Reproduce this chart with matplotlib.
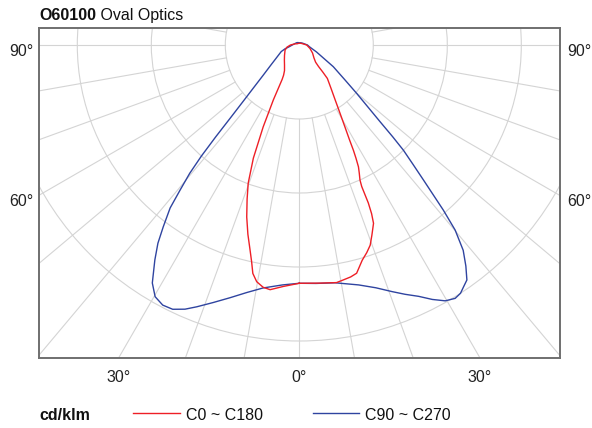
import numpy as np
import matplotlib
matplotlib.use("Agg")
import matplotlib.pyplot as plt
from matplotlib.lines import Line2D
from matplotlib.patches import Circle

plt.rcParams['font.family'] = ['Liberation Sans', 'DejaVu Sans']

# ---------------- data (cd/klm, gamma in degrees from nadir) ----------------
title_bold = "O60100"
title_rest = " Oval Optics"
unit_label = "cd/klm"
series_names = ["C0 ~ C180", "C90 ~ C270"]
series_colors = ["#ee1f26", "#2f44a0"]

# C0 (right half of red curve)
g_c0 = [0, 5, 8.9, 10.6, 12.5, 14.1, 16.3, 18, 19.5, 20.9, 22.6, 23.2, 23.6, 23.8,
        24.2, 25.1, 25.9, 26.6, 27.2, 27.9, 28.8, 29.9, 31.3, 33.1, 36.1, 40.0,
        41.0, 41.8, 43.5, 48.5, 58.8, 71.9, 90, 120, 150, 180]
i_c0 = [322, 323, 325, 323, 321, 318, 303, 295, 287, 275, 261, 248, 233, 209,
        200, 191, 183, 171, 160, 145, 131, 117, 103, 89, 73, 59,
        48, 39, 32, 26.5, 20.9, 15.2, 10, 4, 2.8, 2.3]
# C180 (left half of red curve)
g_c180 = [0, 3.8, 6.8, 8.5, 10.2, 11.5, 12.4, 13.5, 15.2, 17.0, 18.7, 20.3, 22.1,
          23.8, 25.3, 26.5, 27.5, 30, 36, 45, 55, 70, 80, 90, 105, 120, 150, 180]
i_c180 = [322, 327, 333, 331, 325, 315, 300, 285, 265, 243, 220, 199, 165,
          121, 82, 52, 46, 40, 34, 28.5, 24.4, 20.5, 17, 12, 6, 3.3, 2.5, 2.3]
# C90 (right half of blue curve)
g_c90 = [0, 4, 8.6, 13.9, 17.5, 20.6, 23, 25.4, 27.6, 29.7, 31.6, 33, 34.2, 35.5,
         37, 38.6, 40.1, 41.1, 42.6, 43.6, 44.7, 45.5, 46.5, 49.9, 52.55, 57.45,
         68, 75, 80, 90, 120, 150, 180]
i_c90 = [322, 323, 325, 334, 344, 356, 366, 376, 388, 398, 402, 400, 395, 390,
         374, 355, 327, 296, 248, 223, 200, 177, 150, 101, 78, 54.5,
         25, 17, 14, 11, 5, 3.5, 3]
# C270 (left half of blue curve)
g_c270 = [0, 4, 8.5, 12, 15.3, 18.5, 21.4, 23.4, 25.6, 27.7, 29.8, 31.7, 33.9,
          35.5, 36.8, 38.4, 39.4, 40.5, 41.4, 42.3, 43.4, 45, 47, 50, 55, 60,
          70, 75, 80, 90, 110, 131, 150, 180]
i_c270 = [322, 325, 332, 342, 354, 367, 380, 389, 396, 397, 392, 378, 350,
          329, 307, 281, 254, 228, 200, 168, 135, 106, 84, 64, 46.5, 36.5,
          26, 20, 14, 9.5, 6, 4.7, 3.8, 3]

ring_step = 100          # cd/klm per ring
n_rings = 4
spoke_step = 10          # degrees
angle_labels = [90, 60, 30, 0]

# ---------------- layout ----------------
W, H, DPI = 592, 428, 100
CX, CY = 299.3, 45.0      # pole position (px)
PX_PER_RING = 74.0
BOX = (39.0, 27.7, 560.0, 357.7)  # left, top, right, bottom (px)

fig = plt.figure(figsize=(W / DPI, H / DPI), dpi=DPI)
l, t, r, b = BOX
ax = fig.add_axes([l / W, 1 - b / H, (r - l) / W, (b - t) / H])
ax.set_xlim((l - CX) / PX_PER_RING, (r - CX) / PX_PER_RING)
ax.set_ylim(-(b - CY) / PX_PER_RING, (CY - t) / PX_PER_RING)
ax.set_xticks([]); ax.set_yticks([])
for s in ax.spines.values():
    s.set_color("#6f6f6f")
    s.set_linewidth(1.4)
    s.set_zorder(10)

grid_color = "#d4d4d4"
for k in range(1, n_rings + 1):
    ax.add_patch(Circle((0, 0), k, fill=False, ec=grid_color, lw=0.8, zorder=1))
for a in range(0, 360, spoke_step):
    ar = np.deg2rad(a)
    rr = np.array([1.0, 10.0])
    ax.plot(rr * np.sin(ar), -rr * np.cos(ar), color=grid_color, lw=0.8, zorder=1)


def closed(g_right, i_right, g_left, i_left):
    gr = np.deg2rad(np.asarray(g_right, float))
    ir = np.asarray(i_right, float) / ring_step
    gl = np.deg2rad(np.asarray(g_left, float))
    il = np.asarray(i_left, float) / ring_step
    xr, yr = ir * np.sin(gr), -ir * np.cos(gr)
    xl, yl = -il * np.sin(gl), -il * np.cos(gl)
    x = np.concatenate([xr, xl[::-1]])
    y = np.concatenate([yr, yl[::-1]])
    return x, y


xb, yb = closed(g_c90, i_c90, g_c270, i_c270)
ax.plot(xb, yb, color=series_colors[1], lw=1.0, zorder=3, solid_joinstyle='round')
xr_, yr_ = closed(g_c0, i_c0, g_c180, i_c180)
ax.plot(xr_, yr_, color=series_colors[0], lw=1.0, zorder=4, solid_joinstyle='round')

# ---------------- angle labels ----------------
fs = 11.5
tick_color = "#222222"
xmin, xmax = ax.get_xlim()
ymin, ymax = ax.get_ylim()
for a in angle_labels:
    ar = np.deg2rad(a)
    if a >= 50:
        y = -(xmax) / np.tan(ar) if a != 90 else 0.0
        ypx = CY - y * PX_PER_RING + 6
        fig.text((l - 6) / W, 1 - ypx / H, f"{a}°", ha="right", va="center",
                 fontsize=fs, color=tick_color)
        fig.text((r + 7) / W, 1 - ypx / H, f"{a}°", ha="left", va="center",
                 fontsize=fs, color=tick_color)
    else:
        xd = -ymin * np.tan(ar)
        for sgn in ([1] if a == 0 else [-1, 1]):
            xpx = CX + sgn * xd * PX_PER_RING
            fig.text(xpx / W, 1 - 382 / H, f"{a}°", ha="center", va="baseline",
                     fontsize=fs, color=tick_color)

# ---------------- title ----------------
t1 = fig.text(l / W, 1 - 20 / H, title_bold, fontsize=fs, fontweight="bold",
              ha="left", va="baseline", color="#111111")
fig.canvas.draw()
bb = t1.get_window_extent(renderer=fig.canvas.get_renderer())
fig.text(bb.x1 / W, 1 - 20 / H, title_rest, fontsize=fs, ha="left",
         va="baseline", color="#111111")

# ---------------- legend ----------------
ly = 1 - 420 / H
fig.text(l / W, ly, unit_label, fontsize=fs, fontweight="bold", ha="left",
         va="baseline", color="#111111")
leg_lines = [(133.3, 180.0, 185.7), (312.7, 358.7, 364.7)]
for (x0, x1, xt), name, col in zip(leg_lines, series_names, series_colors):
    fig.add_artist(Line2D([x0 / W, x1 / W], [1 - 413.3 / H] * 2, color=col,
                          lw=1.0, transform=fig.transFigure))
    fig.text(xt / W, ly, name, fontsize=fs, ha="left", va="baseline",
             color="#111111")

fig.savefig("out.png", dpi=DPI)
